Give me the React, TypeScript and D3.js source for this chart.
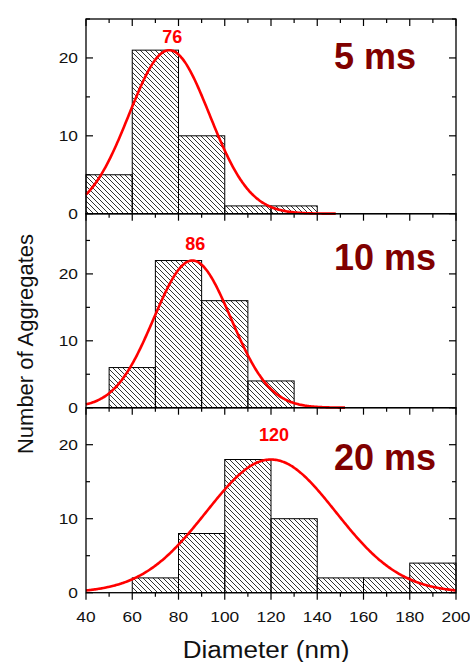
import React from 'react';
import * as d3 from 'd3';

// histogram bin edges (nm) and counts per exposure time
const bins5 = [40, 60, 80, 100, 120, 140];
const counts5 = [5, 21, 10, 1, 1];
const bins10 = [50, 70, 90, 110, 130];
const counts10 = [6, 22, 16, 4];
const bins20 = [60, 80, 100, 120, 140, 160, 180, 200];
const counts20 = [2, 8, 18, 10, 2, 2, 4];

const panelLabels = ['5 ms', '10 ms', '20 ms'];
const peakLabels = ['76', '86', '120'];

// gaussian fit parameters
const fitCenters = [76, 86, 120];
const fitAmps = [21, 22, 18];
const fitSigmas = [17.4, 16.7, 28];
const fitEnds = [148, 152, 200];

const yMaxes = [25, 29, 25];
const xTicks = [40, 60, 80, 100, 120, 140, 160, 180, 200];
const yTicks = [0, 10, 20];

const W = 470;
const H = 662;
const left = 86;
const right = 456;
const panelEdges = [19, 213.7, 407.7, 592.7];
const labelGap = [7, 11, 19];
const SX = 1.12; // text in the original is a bit wider than tall

const FONT = '"Liberation Sans", Arial, sans-serif';

const x = d3.scaleLinear().domain([40, 200]).range([left, right]);

const WideText = ({ x, y, size, anchor, children }: any) => (
  <text transform={`translate(${x},${y}) scale(${SX},1)`} textAnchor={anchor} fontSize={size} fontFamily={FONT} fill="#111">{children}</text>
);

const Panel = ({ i }: { i: number }) => {
  const top = panelEdges[i];
  const bottom = panelEdges[i + 1];
  const y = d3.scaleLinear().domain([0, yMaxes[i]]).range([bottom, top]);
  const bins = [bins5, bins10, bins20][i];
  const counts = [counts5, counts10, counts20][i];
  const c = fitCenters[i], a = fitAmps[i], s = fitSigmas[i];
  const fit = d3.range(40, fitEnds[i] + 0.01, 0.5).map(v => [v, a * Math.exp(-((v - c) ** 2) / (2 * s * s))]);
  const line = d3.line<number[]>().x(d => x(d[0])).y(d => y(d[1])).curve(d3.curveBasis);
  const minorX = d3.range(40, 201, 10);
  const minorY = d3.range(0, yMaxes[i] + 0.01, 5);
  return (
    <g>
      {counts.map((n, k) => (
        <rect key={k} x={x(bins[k])} y={y(n)} width={x(bins[k + 1]) - x(bins[k])} height={y(0) - y(n)}
          fill="url(#hatch)" stroke="#000" strokeWidth={1} />
      ))}
      <path d={line(fit) || ''} fill="none" stroke="#ff0000" strokeWidth={2.6} />
      <text x={x(c) + 3} y={y(a) - labelGap[i]} fill="#ff0000" fontWeight="bold" fontSize={18} textAnchor="middle" fontFamily={FONT}>{peakLabels[i]}</text>
      <text x={334} y={[69, 270, 470][i]} fill="#800000" fontWeight="bold" fontSize={36} fontFamily={FONT}>{panelLabels[i]}</text>
      <rect x={left} y={top} width={right - left} height={bottom - top} fill="none" stroke="#000" strokeWidth={1.3} />
      {minorX.map(v => (
        <line key={'b' + v} x1={x(v)} x2={x(v)} y1={bottom} y2={bottom + (v % 20 === 0 ? 7 : 4)} stroke="#000" strokeWidth={1.2} />
      ))}
      {i === 0 && minorX.map(v => (
        <line key={'t' + v} x1={x(v)} x2={x(v)} y1={top} y2={top + (v % 20 === 0 ? 7 : 4)} stroke="#000" strokeWidth={1.2} />
      ))}
      {minorY.map(v => (
        <g key={'y' + v}>
          <line x1={left} x2={left + (v % 10 === 0 ? 7 : 4)} y1={y(v)} y2={y(v)} stroke="#000" strokeWidth={1.2} />
          <line x1={right} x2={right - (v % 10 === 0 ? 7 : 4)} y1={y(v)} y2={y(v)} stroke="#000" strokeWidth={1.2} />
        </g>
      ))}
      {yTicks.map(v => (
        <WideText key={'yl' + v} x={left - 8} y={y(v) + 5.5} size={15.5} anchor="end">{v}</WideText>
      ))}
    </g>
  );
};

export default function App() {
  return (
    <svg width={W} height={H} style={{ position: 'absolute', left: 0, top: 0, background: '#fff' }}>
      <defs>
        <pattern id="hatch" patternUnits="userSpaceOnUse" width={5} height={5}>
          <path d="M-1,-1 L6,6 M-1,4 L1,6 M4,-1 L6,1" stroke="#000" strokeWidth={0.8} />
        </pattern>
      </defs>
      {[0, 1, 2].map(i => <Panel key={i} i={i} />)}
      {xTicks.map(v => (
        <WideText key={v} x={x(v)} y={621.5} size={15.5} anchor="middle">{v}</WideText>
      ))}
      <WideText x={266} y={658} size={23.3} anchor="middle">Diameter (nm)</WideText>
      <text transform="translate(33,344) rotate(-90)" textAnchor="middle" fontSize={22} fontFamily={FONT} fill="#111">Number of Aggregates</text>
    </svg>
  );
}
